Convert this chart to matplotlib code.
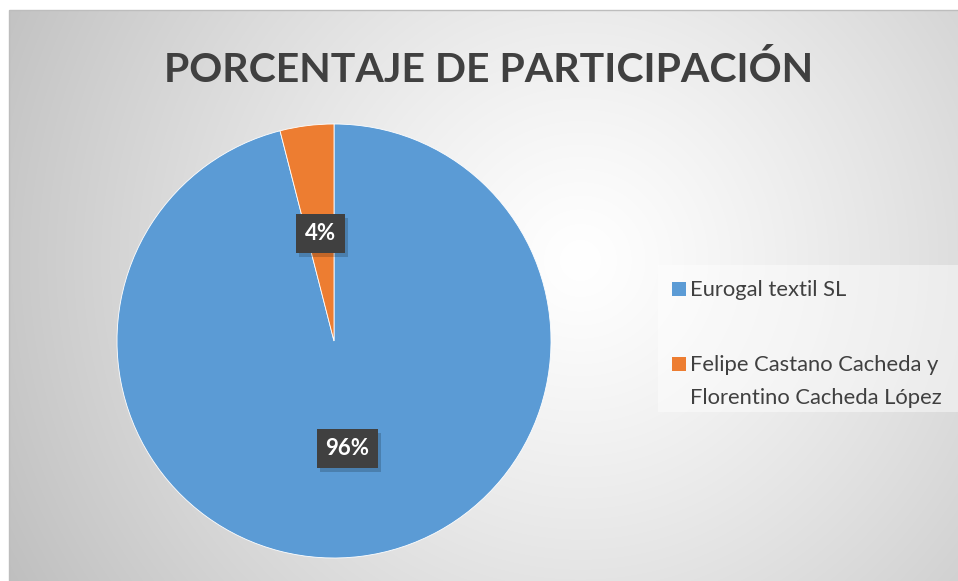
import numpy as np
import matplotlib.pyplot as plt
from matplotlib.patches import Rectangle

# Data
labels = ['Eurogal textil SL', 'Felipe Castano Cacheda y\nFlorentino Cacheda López']
shares = [96, 4]
colors = ['#5b9bd5', '#ed7d31']
title = 'PORCENTAJE DE PARTICIPACIÓN'

plt.rcParams['font.family'] = ['Lato', 'DejaVu Sans']

W, H = 958, 581
fig = plt.figure(figsize=(W / 100, H / 100), dpi=100)

# background with radial gradient
bg = fig.add_axes([0, 0, 1, 1])
bg.set_axis_off()
yy, xx = np.mgrid[0:H, 0:W]
d = np.hypot(xx - 580, yy - 260)
v = 1 - 0.23 * (d / 609) ** 1.2
v[(xx < 9) | (yy < 10)] = 1.0
img = np.dstack([v, v, v])
bg.imshow(img, extent=[0, W, H, 0], interpolation='bilinear')
bg.set_xlim(0, W)
bg.set_ylim(H, 0)
bg.add_patch(Rectangle((9, 10), W, H, fill=False, ec='#bdbdbd', lw=1))

# legend background
bg.add_patch(Rectangle((658, 265), W - 658, 147, fc='white', alpha=0.45, ec='none'))

# pie
cx, cy, r = 334, 341, 217
ax = fig.add_axes([(cx - r) / W, (H - cy - r) / H, 2 * r / W, 2 * r / H])
wedges, texts, autotexts = ax.pie(
    shares, colors=colors, startangle=90, counterclock=False,
    autopct='%1.0f%%', pctdistance=0.5,
    wedgeprops=dict(edgecolor='white', linewidth=0.6),
    textprops=dict(color='white', fontsize=16, fontweight='bold'))
ax.set_xlim(-1, 1)
ax.set_ylim(-1, 1)
for w in wedges:
    w.set_clip_on(False)

# dark label boxes
for t in autotexts:
    t.set_zorder(4)
    t.set_bbox(dict(boxstyle='square,pad=0.4', fc='#404040', ec='none'))

# soft shadow behind each box
fig.canvas.draw()
inv = ax.transData.inverted()
for t in autotexts:
    ext = t.get_bbox_patch().get_window_extent()
    (x0, y0), (x1, y1) = inv.transform([(ext.x0 + 3, ext.y0 - 4), (ext.x1 + 3, ext.y1 - 4)])
    ax.add_patch(Rectangle((x0, y0), x1 - x0, y1 - y0, fc='black', alpha=0.18,
                           ec='none', zorder=3))

# title
fig.text(489 / W, 1 - 82 / H, title, ha='center', va='baseline',
         fontsize=29.5, fontweight='bold', color='#404040')

# legend entries
rows = [296, 371]
for lab, col, base in zip(labels, colors, rows):
    bg.add_patch(Rectangle((672, base - 14), 14, 14, fc=col, ec='none'))
    for i, line in enumerate(lab.split('\n')):
        bg.text(690, base + 33 * i, line, ha='left', va='baseline', fontsize=15.8,
                color='#404040')

fig.savefig('out.png', dpi=100)
